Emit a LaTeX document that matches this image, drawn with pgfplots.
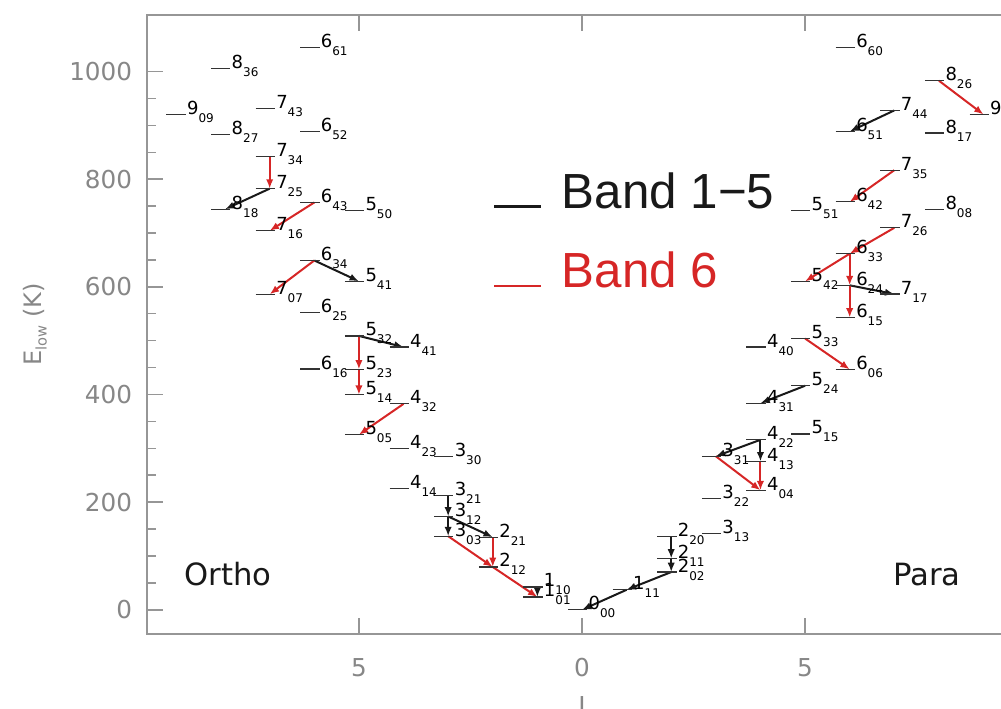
\documentclass[border=0pt]{standalone}
\usepackage{fontspec}
\setmainfont{DejaVu Sans}
\newfontfamily\lsfont{Liberation Sans}
\usepackage{pgfplots}
\pgfplotsset{compat=1.18}
\usepackage{pgfplotstable}
\usetikzlibrary{arrows.meta}
\definecolor{ared}{RGB}{214,38,38}
\definecolor{ablk}{RGB}{25,25,25}
\definecolor{axgray}{RGB}{150,150,150}
\definecolor{tkgray}{RGB}{135,135,135}
\pgfdeclareplotmark{lev}{\pgfpathmoveto{\pgfqpoint{-10.5pt}{0pt}}\pgfpathlineto{\pgfqpoint{4pt}{0pt}}\pgfusepathqstroke}
\newcommand\lv[2]{{\fontsize{13.5}{14}\selectfont #1}\raisebox{-6pt}{\fontsize{9}{9}\selectfont #2}}
\def\lvsplit#1#2#3{\lv{#1}{#2#3}}

% x = -J for ortho, +J for para ; E in the chart's units ; m = J Ka Kc
\pgfplotstableread{
x E m
-1 23.79 101
-1 42.37 110
-2 79.50 212
-2 134.90 221
-3 136.76 303
-3 173.37 312
-3 212.16 321
-3 285.42 330
-4 224.84 414
-4 300.36 423
-4 382.52 432
-4 488.11 441
-5 325.35 505
-5 399.46 514
-5 446.51 523
-5 508.81 532
-5 610.34 541
-5 742.08 550
-6 447.25 616
-6 552.91 625
-6 648.98 634
-6 756.73 643
-6 888.60 652
-6 1045.06 661
-7 586.24 707
-7 704.21 716
-7 782.41 725
-7 842.36 734
-7 931.24 743
-8 744.16 818
-8 882.89 827
-8 1006.12 836
-9 920.21 909
0 0.00 000
1 37.14 111
2 70.09 202
2 95.18 211
2 136.16 220
3 142.28 313
3 206.30 322
3 285.22 331
4 222.05 404
4 275.50 413
4 315.78 422
4 383.84 431
4 488.13 440
5 326.63 515
5 416.21 524
5 503.97 533
5 610.12 542
5 742.07 551
6 446.70 606
6 542.91 615
6 602.77 624
6 661.55 633
6 757.78 642
6 888.60 651
6 1045.06 660
7 586.48 717
7 709.61 726
7 816.69 735
7 927.74 744
8 744.06 808
8 885.60 817
8 982.91 826
9 920.21 919
}\levels

\begin{document}
\begin{tikzpicture}
\useasboundingbox (0pt,0pt) rectangle (750.75pt,531pt);
\clip (0pt,0pt) rectangle (750.75pt,531pt);
\begin{axis}[
  at={(110.25pt,55.5pt)}, anchor=south west,
  scale only axis, width=652.5pt, height=464.25pt,
  xmin=-9.75, xmax=9.75, ymin=-45, ymax=1105,
  xtick={-5,0,5}, xticklabels={5,0,5},
  ytick={0,200,400,600,800,1000}, minor y tick num=3,
  tick align=inside,
  major tick length=12pt, minor tick length=6.5pt,
  axis line style={axgray, line width=1.2pt},
  tick style={axgray, line width=1.1pt},
  /pgf/number format/assume math mode=true,
  /pgf/number format/1000 sep={},
  tick label style={font=\fontsize{18.5}{20}\selectfont, text=tkgray, inner sep=0pt},
  xticklabel shift=18pt, yticklabel shift=11pt,
  xlabel={J},
  xlabel style={at={(axis description cs:0.5,0)}, anchor=north, yshift=-47pt, font=\fontsize{18.5}{20}\selectfont, text=tkgray, inner sep=0pt},
  ylabel={E\raisebox{-4pt}{\fontsize{11}{11}\selectfont low} (K)},
  ylabel style={at={(axis description cs:-0.1287,0.5)}, anchor=center, font=\fontsize{18}{20}\selectfont, text=tkgray, inner sep=0pt},
  legend style={at={(axis cs:-2.0,812)}, anchor=north west, draw=none, fill=none, inner sep=0pt, row sep=31pt, column sep=15pt, nodes={inner sep=0pt}, font=\lsfont\fontsize{37}{40}\selectfont, text=ablk},
  legend cell align=left,
  legend image code/.code={\path (0pt,11pt); \draw[#1, line width=1.6pt] (0pt,-11pt) -- (35pt,-11pt);},
  arB/.style={ablk, line width=1.5pt, -{Latex[length=7pt,width=5.5pt]}, forget plot},
  arR/.style={ared, line width=1.5pt, -{Latex[length=7pt,width=5.5pt]}, forget plot},
]
\addlegendimage{ablk}
\addlegendentry{Band 1−5}
\addlegendimage{ared}
\addlegendentry{\textcolor{ared}{Band 6}}

\addplot[forget plot, only marks, mark=lev, mark options={black!80, line width=0.9pt, solid},
  point meta=explicit symbolic,
  nodes near coords={\expandafter\lvsplit\pgfplotspointmeta},
  every node near coord/.append style={anchor=base west, xshift=4.5pt, inner sep=0pt, text=black}]
  table[x=x, y=E, meta=m] {\levels};

% Band 1-5 transitions
\addplot[arB] coordinates {(-1,42.37) (-1,23.79)};
\addplot[arB] coordinates {(-3,212.16) (-3,173.37)};
\addplot[arB] coordinates {(-3,173.37) (-3,136.76)};
\addplot[arB] coordinates {(-3,173.37) (-2,134.90)};
\addplot[arB] coordinates {(-5,508.81) (-4,488.11)};
\addplot[arB] coordinates {(-6,648.98) (-5,610.34)};
\addplot[arB] coordinates {(-7,782.41) (-8,744.16)};
\addplot[arB] coordinates {(1,37.14) (0,0)};
\addplot[arB] coordinates {(2,70.09) (1,37.14)};
\addplot[arB] coordinates {(2,95.18) (2,70.09)};
\addplot[arB] coordinates {(2,136.16) (2,95.18)};
\addplot[arB] coordinates {(4,315.78) (3,285.22)};
\addplot[arB] coordinates {(4,315.78) (4,275.50)};
\addplot[arB] coordinates {(5,416.21) (4,383.84)};
\addplot[arB] coordinates {(6,602.77) (7,586.48)};
\addplot[arB] coordinates {(7,927.74) (6,888.60)};

% Band 6 transitions
\addplot[arR] coordinates {(-2,79.50) (-1,23.79)};
\addplot[arR] coordinates {(-2,134.90) (-2,79.50)};
\addplot[arR] coordinates {(-3,136.76) (-2,79.50)};
\addplot[arR] coordinates {(-4,382.52) (-5,325.35)};
\addplot[arR] coordinates {(-5,508.81) (-5,446.51)};
\addplot[arR] coordinates {(-5,446.51) (-5,399.46)};
\addplot[arR] coordinates {(-6,648.98) (-7,586.24)};
\addplot[arR] coordinates {(-6,756.73) (-7,704.21)};
\addplot[arR] coordinates {(-7,842.36) (-7,782.41)};
\addplot[arR] coordinates {(3,285.22) (4,222.05)};
\addplot[arR] coordinates {(4,275.50) (4,222.05)};
\addplot[arR] coordinates {(5,503.97) (6,446.70)};
\addplot[arR] coordinates {(6,661.55) (5,610.12)};
\addplot[arR] coordinates {(6,661.55) (6,602.77)};
\addplot[arR] coordinates {(6,602.77) (6,542.91)};
\addplot[arR] coordinates {(7,709.61) (6,661.55)};
\addplot[arR] coordinates {(7,816.69) (6,757.78)};
\addplot[arR] coordinates {(8,982.91) (9,920.21)};

\node[anchor=base west, font=\fontsize{23}{24}\selectfont, text=ablk, inner sep=0pt] at (axis cs:-8.92,46) {Ortho};
\node[anchor=base west, font=\fontsize{23}{24}\selectfont, text=ablk, inner sep=0pt] at (axis cs:6.97,46) {Para};
\end{axis}
\end{tikzpicture}
\end{document}
